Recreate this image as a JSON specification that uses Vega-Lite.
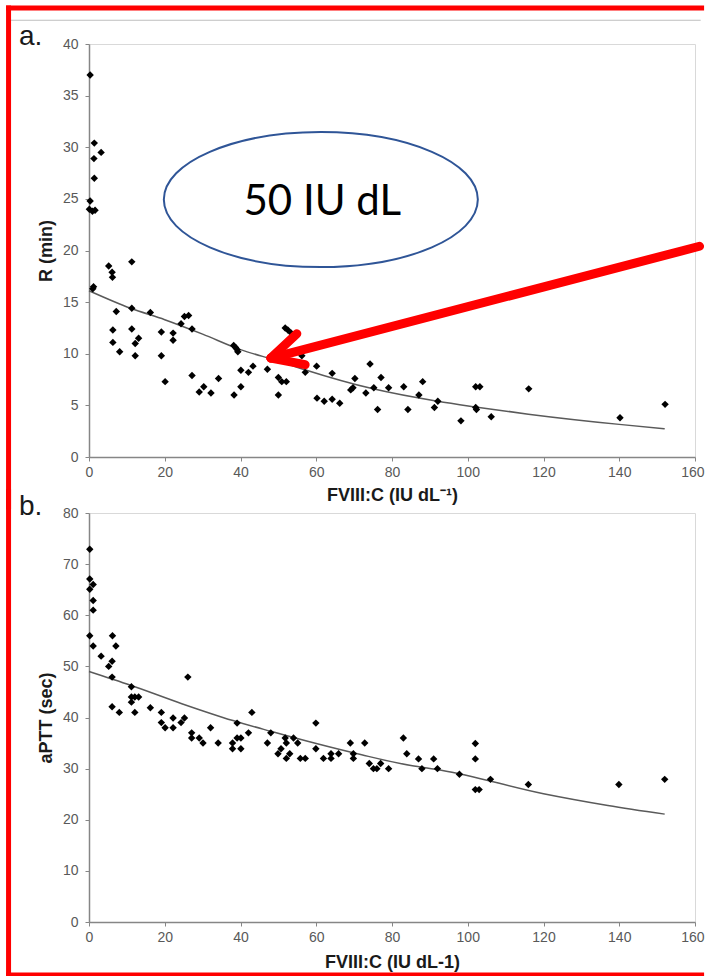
{
  "$schema": "https://vega.github.io/schema/vega-lite/v6.json",
  "padding": {"left": 4, "top": 3, "right": 0, "bottom": 0},
  "background": "white",
  "bounds": "flush",
  "spacing": 56,
  "datasets": {
    "pointsA": [
      {"x":0.3,"y":37.0},{"x":1.4,"y":30.4},{"x":1.3,"y":28.9},{"x":3.2,"y":29.5},{"x":1.4,"y":27.0},
      {"x":0.3,"y":24.8},{"x":0.1,"y":24.0},{"x":0.9,"y":23.8},{"x":1.6,"y":23.9},
      {"x":1.2,"y":16.5},{"x":1.0,"y":16.3},{"x":5.2,"y":18.5},{"x":6.1,"y":17.9},{"x":6.2,"y":17.4},
      {"x":11.3,"y":18.9},{"x":7.2,"y":14.1},{"x":11.3,"y":14.4},{"x":6.3,"y":12.3},{"x":6.3,"y":11.1},
      {"x":8.1,"y":10.2},{"x":11.3,"y":12.4},{"x":12.2,"y":11.0},{"x":13.1,"y":11.5},{"x":12.2,"y":9.8},
      {"x":16.2,"y":14.0},{"x":19.1,"y":12.1},{"x":19.1,"y":9.8},{"x":20.1,"y":7.3},{"x":22.2,"y":12.0},
      {"x":22.2,"y":11.3},{"x":24.3,"y":12.9},{"x":25.2,"y":13.6},{"x":26.3,"y":13.7},{"x":27.2,"y":12.4},
      {"x":27.2,"y":7.9},{"x":29.1,"y":6.3},{"x":30.3,"y":6.8},{"x":32.2,"y":6.2},{"x":34.2,"y":7.6},
      {"x":38.2,"y":10.8},{"x":38.7,"y":10.6},{"x":39.1,"y":10.4},{"x":39.3,"y":10.2},{"x":38.3,"y":6.0},
      {"x":40.1,"y":8.4},{"x":40.1,"y":6.8},{"x":42.1,"y":8.2},{"x":43.3,"y":8.8},{"x":47.1,"y":8.5},
      {"x":48.1,"y":9.7},{"x":50.0,"y":7.7},{"x":50.0,"y":6.0},{"x":50.9,"y":7.3},{"x":52.1,"y":7.3},
      {"x":51.8,"y":12.5},{"x":52.5,"y":12.3},{"x":53.4,"y":12.0},{"x":56.2,"y":9.8},{"x":57.1,"y":8.2},
      {"x":60.1,"y":8.8},{"x":60.2,"y":5.7},{"x":62.1,"y":5.4},{"x":64.2,"y":8.1},{"x":64.2,"y":5.6},
      {"x":66.2,"y":5.2},{"x":69.1,"y":6.5},{"x":69.7,"y":6.7},{"x":70.2,"y":7.6},{"x":73.1,"y":6.2},
      {"x":74.2,"y":9.0},{"x":75.2,"y":6.7},{"x":76.2,"y":4.6},{"x":77.1,"y":7.7},{"x":79.1,"y":6.7},
      {"x":83.1,"y":6.8},{"x":84.2,"y":4.6},{"x":87.1,"y":6.0},{"x":88.1,"y":7.3},{"x":91.2,"y":4.8},
      {"x":92.1,"y":5.4},{"x":98.2,"y":3.5},{"x":102.1,"y":6.8},{"x":103.2,"y":6.8},{"x":102.1,"y":4.8},
      {"x":102.3,"y":4.6},{"x":106.2,"y":3.9},{"x":116.1,"y":6.6},{"x":140.2,"y":3.8},{"x":152.1,"y":5.1}
    ],
    "curveA": [
      {"x":0,"y":16.1},{"x":11,"y":14.4},{"x":20,"y":13.3},{"x":30,"y":11.9},{"x":40,"y":10.4},
      {"x":50,"y":9.3},{"x":57,"y":8.45},{"x":75,"y":6.6},{"x":92,"y":5.4},{"x":102,"y":4.85},
      {"x":116,"y":4.15},{"x":140,"y":3.16},{"x":152,"y":2.74}
    ],
    "pointsB": [
      {"x":0.2,"y":72.9},{"x":0.2,"y":67.1},{"x":0.2,"y":65.1},{"x":1.1,"y":66.0},{"x":1.1,"y":62.9},
      {"x":1.1,"y":61.0},{"x":0.2,"y":56.0},{"x":1.1,"y":54.0},{"x":3.2,"y":52.0},{"x":5.2,"y":50.0},
      {"x":6.1,"y":51.0},{"x":6.2,"y":56.0},{"x":7.1,"y":54.0},{"x":6.1,"y":47.9},{"x":6.1,"y":42.1},
      {"x":8.0,"y":41.0},{"x":11.2,"y":46.0},{"x":11.2,"y":44.0},{"x":11.2,"y":43.0},{"x":12.1,"y":44.0},
      {"x":13.1,"y":44.0},{"x":12.1,"y":41.0},{"x":16.2,"y":41.9},{"x":19.1,"y":41.0},{"x":19.1,"y":39.0},
      {"x":20.1,"y":38.0},{"x":22.2,"y":39.9},{"x":22.2,"y":38.0},{"x":24.3,"y":39.0},{"x":25.2,"y":39.9},
      {"x":26.1,"y":47.9},{"x":27.1,"y":37.0},{"x":27.1,"y":36.0},{"x":29.1,"y":36.0},{"x":30.1,"y":35.0},
      {"x":32.1,"y":38.0},{"x":34.1,"y":35.0},{"x":37.9,"y":35.0},{"x":37.9,"y":33.9},{"x":39.1,"y":38.9},
      {"x":39.1,"y":36.0},{"x":40.1,"y":36.0},{"x":40.1,"y":33.9},{"x":42.1,"y":37.0},{"x":43.0,"y":41.0},
      {"x":47.1,"y":35.0},{"x":48.0,"y":37.0},{"x":49.9,"y":32.9},{"x":50.7,"y":33.9},{"x":51.8,"y":36.0},
      {"x":52.1,"y":35.0},{"x":53.0,"y":32.9},{"x":52.1,"y":32.0},{"x":54.0,"y":36.0},{"x":55.1,"y":35.0},
      {"x":55.8,"y":32.0},{"x":57.1,"y":32.0},{"x":59.9,"y":38.9},{"x":59.9,"y":33.9},{"x":61.9,"y":32.0},
      {"x":63.9,"y":32.9},{"x":63.9,"y":32.0},{"x":65.9,"y":32.9},{"x":69.0,"y":35.0},{"x":69.8,"y":32.9},
      {"x":69.8,"y":32.0},{"x":72.8,"y":35.0},{"x":74.0,"y":31.0},{"x":75.1,"y":30.0},{"x":76.0,"y":30.0},
      {"x":77.0,"y":31.0},{"x":79.1,"y":30.0},{"x":83.0,"y":36.0},{"x":83.9,"y":32.9},{"x":87.0,"y":31.9},
      {"x":87.9,"y":30.0},{"x":91.0,"y":31.9},{"x":92.0,"y":30.0},{"x":97.8,"y":28.9},{"x":102.0,"y":34.9},
      {"x":102.0,"y":31.9},{"x":102.0,"y":25.9},{"x":103.0,"y":25.9},{"x":106.0,"y":27.9},{"x":116.0,"y":26.9},
      {"x":139.9,"y":26.9},{"x":152.0,"y":27.9}
    ],
    "curveB": [
      {"x":0,"y":49.0},{"x":11,"y":46.3},{"x":24.5,"y":42.7},{"x":38,"y":39.4},{"x":48,"y":37.3},
      {"x":60,"y":34.9},{"x":72,"y":32.7},{"x":85,"y":30.6},{"x":93,"y":29.7},{"x":120,"y":25.1},
      {"x":137,"y":22.8},{"x":152,"y":21.1}
    ],
    "frameA": [{"x":-20.58,"y":42.3,"x2":161.5,"y2":42.3}],
    "borderA": [
      {"x":-21.24,"y":43.49,"x2":161.74,"y2":43.49},
      {"x":-21.24,"y":43.49,"x2":-21.24,"y2":-4.84}
    ],
    "borderB": [
      {"x":-21.24,"y":84.15,"x2":-21.24,"y2":-10.37},
      {"x":-21.24,"y":-10.37,"x2":161.74,"y2":-10.37}
    ],
    "arrow": [
      {"x":48.02,"y":9.58,"x2":161.2,"y2":20.41},
      {"x":48.02,"y":9.58,"x2":54.88,"y2":11.94},
      {"x":48.02,"y":9.58,"x2":57.07,"y2":8.94}
    ],
    "ellipse": [{"x":61.21,"y":24.93}],
    "calloutText": [{"x":61.6,"y":23.43,"label":"50 IU dL"}],
    "labelA": [{"x":-18.47,"y":39.88,"label":"a."}],
    "labelB": [{"x":-18.47,"y":79.65,"label":"b."}]
  },
  "config": {
    "view": {"stroke": "#d9d9d9", "strokeWidth": 1},
    "axis": {
      "grid": false,
      "domainColor": "#868686",
      "domainWidth": 1.5,
      "tickColor": "#868686",
      "tickSize": 4,
      "labelFont": "Liberation Sans",
      "labelFontSize": 14,
      "labelColor": "#595959",
      "labelFlush": false,
      "titleFont": "Liberation Sans",
      "titleFontSize": 18,
      "titleFontWeight": "bold",
      "titleColor": "#1a1a1a"
    },
    "axisX": {
      "labelPadding": 4,
      "labelAlign": {"condition": {"test": "datum.value == 160", "value": "right"}, "value": "center"},
      "labelOffset": {"condition": {"test": "datum.value == 160", "value": 9}, "value": 0}
    },
    "axisY": {"labelPadding": 7, "titlePadding": 7}
  },
  "vconcat": [
    {
      "width": 606,
      "height": 413,
      "encoding": {
        "x": {"field": "x", "type": "quantitative",
              "scale": {"domain": [0, 160], "nice": false, "zero": false},
              "axis": {"values": [0,20,40,60,80,100,120,140,160], "title": "FVIII:C (IU dL⁻¹)", "titlePadding": 7}},
        "y": {"field": "y", "type": "quantitative",
              "scale": {"domain": [0, 40], "nice": false, "zero": false},
              "axis": {"values": [0,5,10,15,20,25,30,35,40], "title": "R (min)"}}
      },
      "layer": [
        {"data": {"name": "frameA"}, "mark": {"type": "rule", "color": "#bfbfbf", "strokeWidth": 1},
         "encoding": {"x2": {"field": "x2"}, "y2": {"field": "y2"}}},
        {"data": {"name": "borderA"}, "mark": {"type": "rule", "color": "#ff0000", "strokeWidth": 5, "strokeCap": "square"},
         "encoding": {"x2": {"field": "x2"}, "y2": {"field": "y2"}}},
        {"data": {"name": "curveA"}, "mark": {"type": "line", "color": "#5a5a5a", "strokeWidth": 1.5, "interpolate": "monotone"},
         "encoding": {}},
        {"data": {"name": "pointsA"}, "mark": {"type": "point", "shape": "diamond", "filled": true, "color": "#000000", "size": 55, "opacity": 1},
         "encoding": {}},
        {"data": {"name": "ellipse"},
         "mark": {"type": "point", "shape": "M -1 0 C -1 -0.2374 -0.5523 -0.43 0 -0.43 C 0.5523 -0.43 1 -0.2374 1 0 C 1 0.2374 0.5523 0.43 0 0.43 C -0.5523 0.43 -1 0.2374 -1 0 Z",
                  "filled": false, "stroke": "#2f5597", "strokeWidth": 2, "size": 98596, "opacity": 1},
         "encoding": {}},
        {"data": {"name": "calloutText"}, "mark": {"type": "text", "font": "Lato", "fontSize": 42, "align": "center", "baseline": "alphabetic", "color": "#000000"},
         "encoding": {"text": {"field": "label"}}},
        {"data": {"name": "arrow"}, "mark": {"type": "rule", "color": "#ff0000", "strokeWidth": 9, "strokeCap": "round"},
         "encoding": {"x2": {"field": "x2"}, "y2": {"field": "y2"}}},
        {"data": {"name": "labelA"}, "mark": {"type": "text", "font": "Liberation Sans", "fontSize": 28, "align": "left", "baseline": "alphabetic", "color": "#1a1a1a"},
         "encoding": {"text": {"field": "label"}}}
      ]
    },
    {
      "width": 606,
      "height": 409,
      "encoding": {
        "x": {"field": "x", "type": "quantitative",
              "scale": {"domain": [0, 160], "nice": false, "zero": false},
              "axis": {"values": [0,20,40,60,80,100,120,140,160], "title": "FVIII:C (IU dL-1)", "titlePadding": 9}},
        "y": {"field": "y", "type": "quantitative",
              "scale": {"domain": [0, 80], "nice": false, "zero": false},
              "axis": {"values": [0,10,20,30,40,50,60,70,80], "title": "aPTT (sec)"}}
      },
      "layer": [
        {"data": {"name": "borderB"}, "mark": {"type": "rule", "color": "#ff0000", "strokeWidth": 5, "strokeCap": "square"},
         "encoding": {"x2": {"field": "x2"}, "y2": {"field": "y2"}}},
        {"data": {"name": "curveB"}, "mark": {"type": "line", "color": "#5a5a5a", "strokeWidth": 1.5, "interpolate": "monotone"},
         "encoding": {}},
        {"data": {"name": "pointsB"}, "mark": {"type": "point", "shape": "diamond", "filled": true, "color": "#000000", "size": 55, "opacity": 1},
         "encoding": {}},
        {"data": {"name": "labelB"}, "mark": {"type": "text", "font": "Liberation Sans", "fontSize": 28, "align": "left", "baseline": "alphabetic", "color": "#1a1a1a"},
         "encoding": {"text": {"field": "label"}}}
      ]
    }
  ]
}
